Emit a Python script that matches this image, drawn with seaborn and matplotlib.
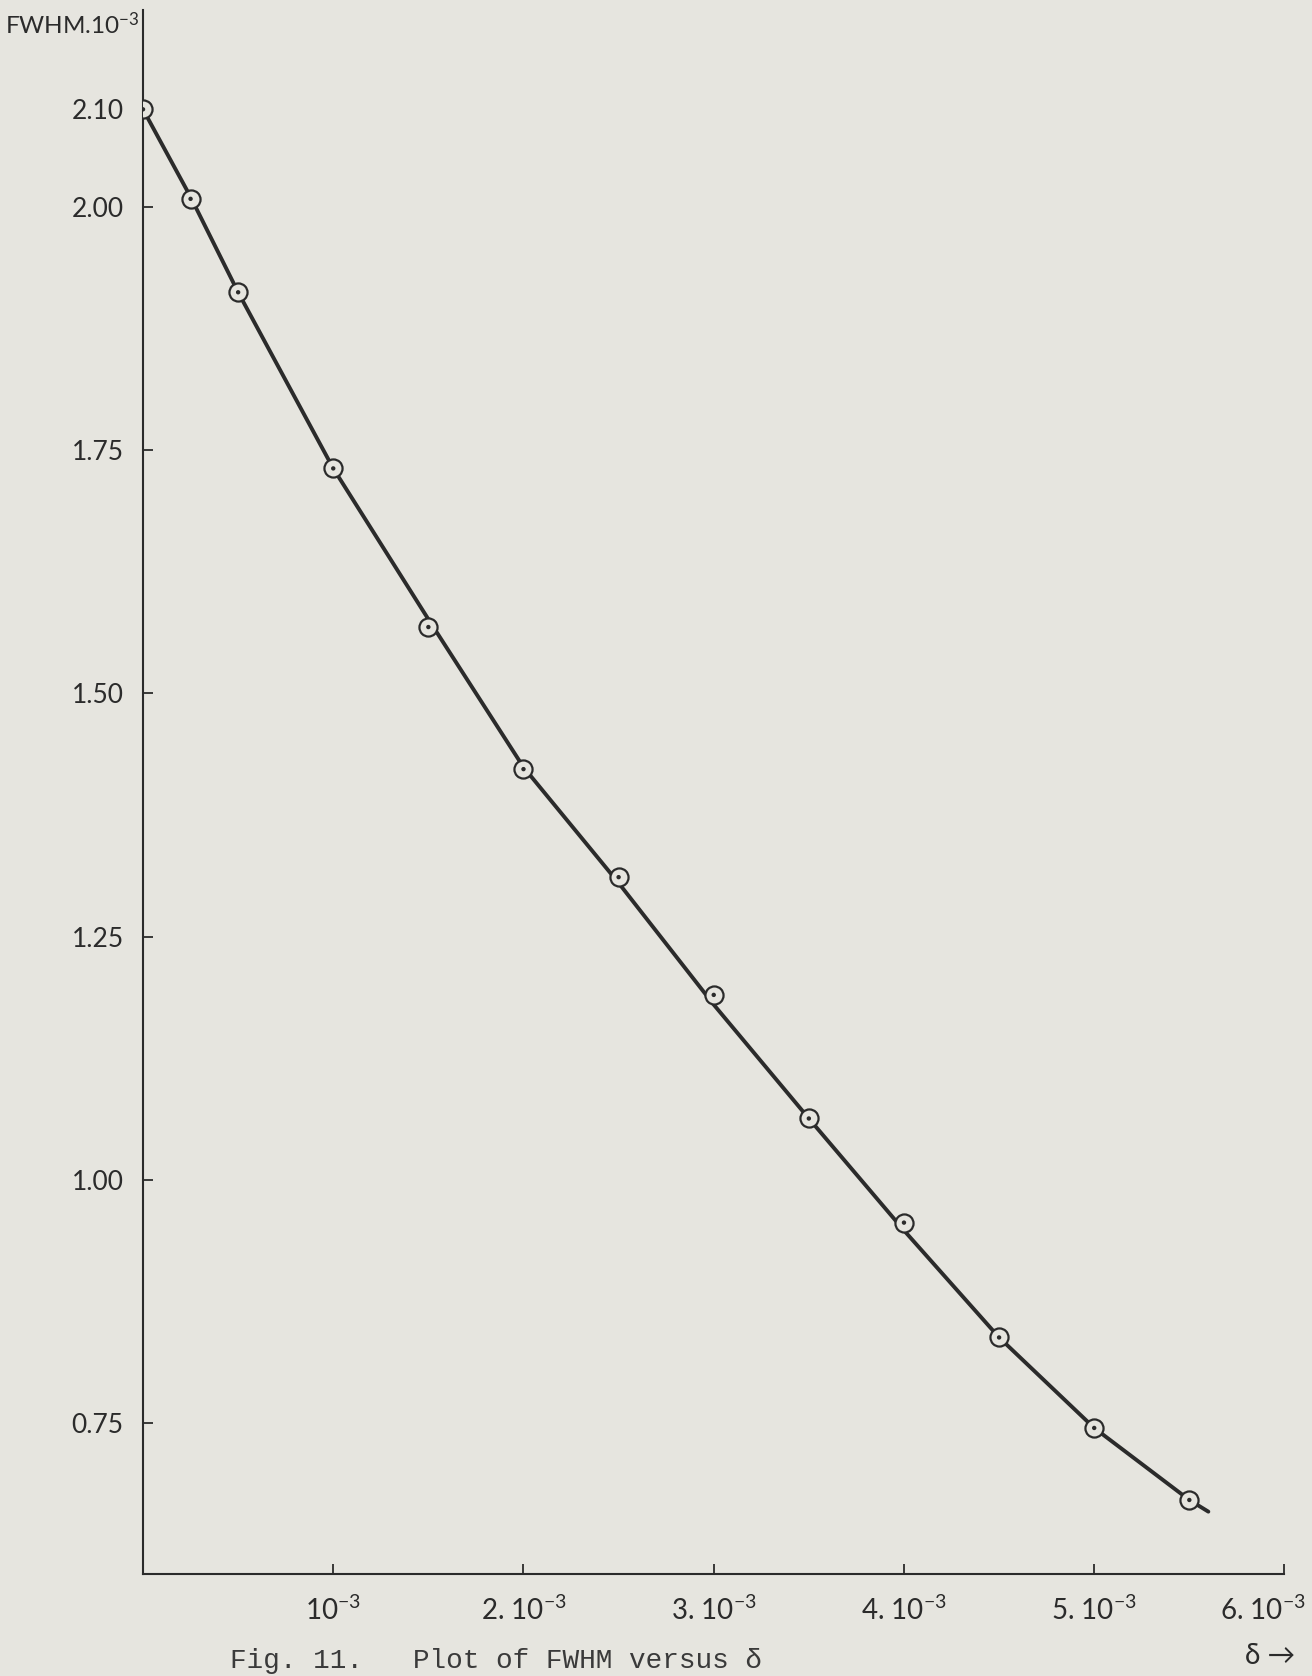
import matplotlib
matplotlib.use("Agg")
import matplotlib.pyplot as plt
import matplotlib.transforms as mtransforms
import seaborn as sns
import pandas as pd

# ---- data ----
delta_points = [0.0, 0.25e-3, 0.5e-3, 1.0e-3, 1.5e-3, 2.0e-3, 2.5e-3, 3.0e-3,
                3.5e-3, 4.0e-3, 4.5e-3, 5.0e-3, 5.5e-3]
fwhm_points = [2.10, 2.008, 1.912, 1.731, 1.568, 1.422, 1.311, 1.190,
               1.063, 0.956, 0.838, 0.745, 0.671]

delta_curve = [0.0, 0.25e-3, 0.5e-3, 1.0e-3, 1.5e-3, 2.0e-3, 2.5e-3, 3.0e-3,
               3.5e-3, 4.0e-3, 4.5e-3, 5.0e-3, 5.5e-3, 5.6e-3]
fwhm_curve = [2.10, 2.01, 1.912, 1.731, 1.576, 1.424, 1.305, 1.180,
              1.063, 0.948, 0.838, 0.745, 0.671, 0.659]

y_ticks = [0.75, 1.00, 1.25, 1.50, 1.75, 2.00, 2.10]
y_tick_labels = ["0.75", "1.00", "1.25", "1.50", "1.75", "2.00", "2.10"]
x_ticks = [1e-3, 2e-3, 3e-3, 4e-3, 5e-3, 6e-3]
x_tick_labels = [r"$\mathregular{10^{-3}}$", r"2. $\mathregular{10^{-3}}$",
                 r"3. $\mathregular{10^{-3}}$", r"4. $\mathregular{10^{-3}}$",
                 r"5. $\mathregular{10^{-3}}$", r"6. $\mathregular{10^{-3}}$"]
y_label = r"FWHM.$\mathregular{10^{-3}}$"
x_label = "δ →"
caption = "Fig. 11.   Plot of FWHM versus δ"

# ---- style ----
sns.set_theme(style="white")
plt.rcParams["font.family"] = ["Lato", "DejaVu Sans"]
plt.rcParams["mathtext.fontset"] = "custom"
plt.rcParams["mathtext.rm"] = "Lato"
ink = "#2b2b2b"
paper = "#e6e5df"

fig = plt.figure(figsize=(13.12, 16.76), dpi=100, facecolor=paper)
ax = fig.add_axes([0.109, 0.0609, 0.870, 0.9331])
ax.set_facecolor(paper)

curve_df = pd.DataFrame({"delta": delta_curve, "fwhm": fwhm_curve})
pts_df = pd.DataFrame({"delta": delta_points, "fwhm": fwhm_points})

sns.lineplot(data=curve_df, x="delta", y="fwhm", ax=ax, color=ink,
             linewidth=2.8, sort=False, estimator=None)
sns.scatterplot(data=pts_df, x="delta", y="fwhm", ax=ax, s=170,
                facecolor=paper, edgecolor=ink, linewidth=1.6, zorder=4)
sns.scatterplot(data=pts_df, x="delta", y="fwhm", ax=ax, s=10,
                color=ink, edgecolor="none", zorder=5)

ax.set_xlim(0, 6e-3)
ax.set_ylim(0.595, 2.202)

for side in ["top", "right"]:
    ax.spines[side].set_visible(False)
for side in ["left", "bottom"]:
    ax.spines[side].set_color(ink)
    ax.spines[side].set_linewidth(1.5)

ax.set_yticks(y_ticks)
ax.set_yticklabels(y_tick_labels)
ax.set_xticks(x_ticks)
ax.set_xticklabels(x_tick_labels)
ax.tick_params(axis="both", direction="in", length=7, width=1.3, color=ink,
               labelcolor=ink)
ax.tick_params(axis="y", pad=14, left=True, labelsize=19)
ax.tick_params(axis="x", pad=16, bottom=True, labelsize=20)
ax.yaxis.get_major_ticks()[-1].tick1line.set_visible(False)
ax.set_xlabel("")
ax.set_ylabel("")
ax.grid(False)

# keep the last x label inside the page
last = ax.get_xticklabels()[-1]
last.set_transform(last.get_transform() +
                   mtransforms.ScaledTranslation(-22 / 100, 0, fig.dpi_scale_trans))

fig.text(0.004, 0.985, y_label, fontsize=17.5, color=ink, ha="left", va="center")
fig.text(0.968, 0.012, x_label, fontsize=20, color=ink, ha="center", va="center")
fig.text(0.175, 0.001, caption, fontsize=20, color="#3a3a3a",
         family=["Liberation Mono", "DejaVu Sans Mono"], ha="left", va="bottom")

fig.savefig("out.png", dpi=100, facecolor=paper)
